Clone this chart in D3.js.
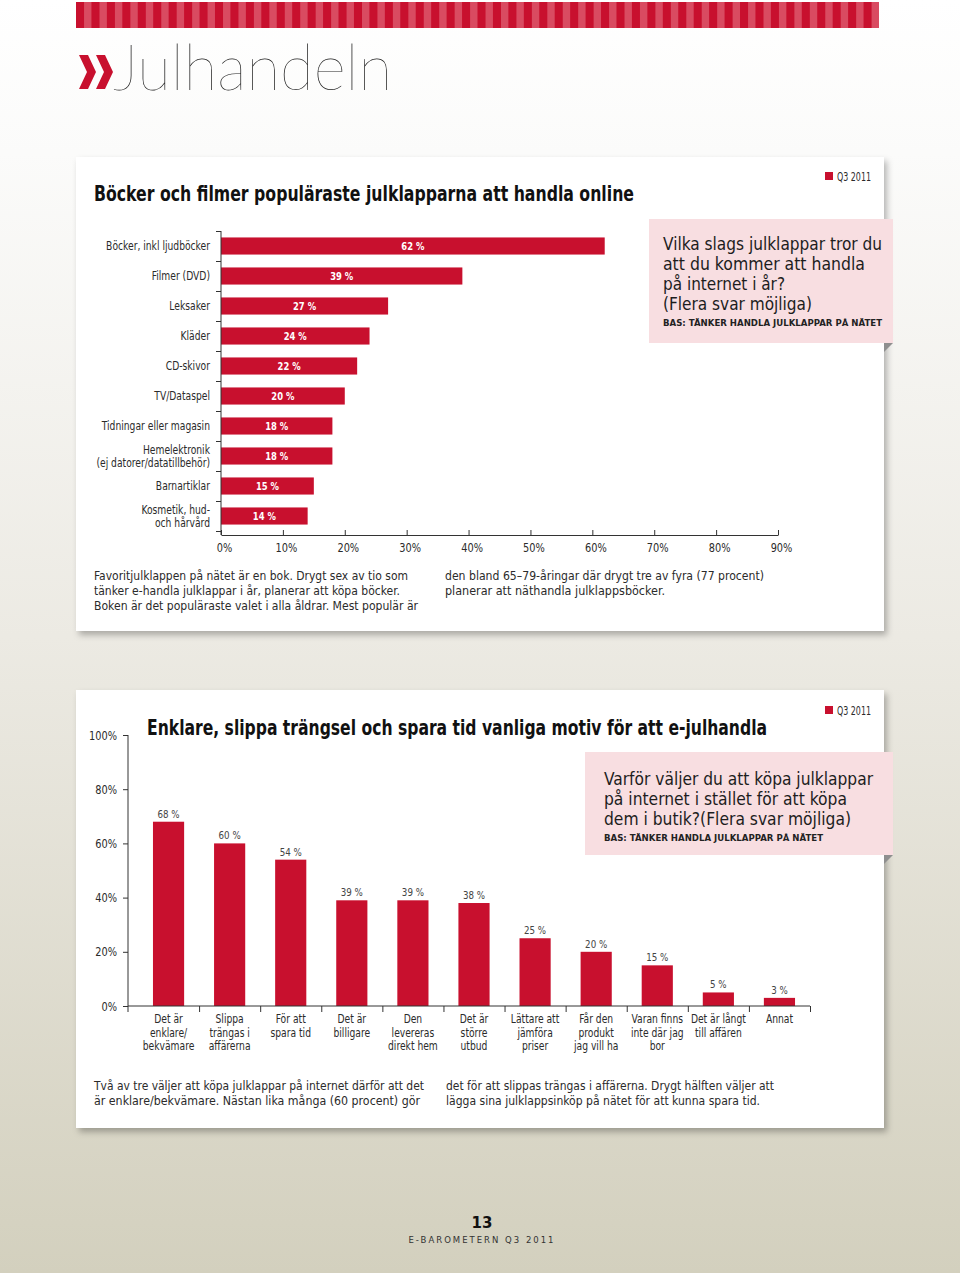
<!DOCTYPE html>
<html>
<head>
<meta charset="utf-8">
<script src="https://cdn.jsdelivr.net/npm/d3@7"></script>
<style>
  body { margin: 0; background: #fff; }
  svg { display: block; }
</style>
</head>
<body>
<svg id="page" width="960" height="1273"></svg>
<script>
// ---- data: chart 1 (horizontal bars) ----
const giftCategories = [
  "Böcker, inkl ljudböcker",
  "Filmer (DVD)",
  "Leksaker",
  "Kläder",
  "CD-skivor",
  "TV/Dataspel",
  "Tidningar eller magasin",
  "Hemelektronik\n(ej datorer/datatillbehör)",
  "Barnartiklar",
  "Kosmetik, hud-\noch hårvård",
];
const giftValues = [62, 39, 27, 24, 22, 20, 18, 18, 15, 14];
const giftTicks = [0, 10, 20, 30, 40, 50, 60, 70, 80, 90];

// ---- data: chart 2 (vertical bars) ----
const motiveCategories = [
  "Det är\nenklare/\nbekvämare",
  "Slippa\nträngas i\naffärerna",
  "För att\nspara tid",
  "Det är\nbilligare",
  "Den\nlevereras\ndirekt hem",
  "Det är\nstörre\nutbud",
  "Lättare att\njämföra\npriser",
  "Får den\nprodukt\njag vill ha",
  "Varan finns\ninte där jag\nbor",
  "Det är långt\ntill affären",
  "Annat",
];
const motiveValues = [68, 60, 54, 39, 39, 38, 25, 20, 15, 5, 3];
const motiveTicks = [0, 20, 40, 60, 80, 100];

// ---- texts ----
const giftTitle = "Böcker och filmer populäraste julklapparna att handla online";
const giftQuestion = ["Vilka slags julklappar tror du", "att du kommer att handla", "på internet i år?", "(Flera svar möjliga)"];
const giftTextLeft = [
  "Favoritjulklappen på nätet är en bok. Drygt sex av tio som",
  "tänker e-handla julklappar i år, planerar att köpa böcker.",
  "Boken är det populäraste valet i alla åldrar. Mest populär är",
];
const giftTextRight = [
  "den bland 65–79-åringar där drygt tre av fyra (77 procent)",
  "planerar  att näthandla julklappsböcker.",
];
const motiveTitle = "Enklare, slippa trängsel och spara tid vanliga motiv för att e-julhandla";
const motiveQuestion = ["Varför väljer du att köpa julklappar", "på internet i stället för att köpa", "dem i butik?(Flera svar möjliga)"];
const motiveTextLeft = [
  "Två av tre väljer att köpa julklappar på internet därför att det",
  "är enklare/bekvämare. Nästan lika många (60 procent) gör",
];
const motiveTextRight = [
  "det för att slippas trängas i affärerna. Drygt hälften väljer att",
  "lägga sina julklappsinköp på nätet för att kunna spara tid.",
];
const baseText = "BAS: TÄNKER HANDLA JULKLAPPAR PÅ NÄTET";
const periodLabel = "Q3 2011";

const RED = "#c8102e";
const PINK = "#f8dee1";
const TEXT = "#2b2b2b";
const COND = "'Liberation Sans Narrow','DejaVu Sans Condensed','Roboto',sans-serif";

const svg = d3.select("#page");
const defs = svg.append("defs");

const bg = defs.append("linearGradient").attr("id", "bg")
  .attr("x1", 0).attr("y1", 0).attr("x2", 0).attr("y2", 1);
bg.append("stop").attr("offset", 0).attr("stop-color", "#ffffff");
bg.append("stop").attr("offset", 0.12).attr("stop-color", "#fbfbfa");
bg.append("stop").attr("offset", 0.5).attr("stop-color", "#eceae3");
bg.append("stop").attr("offset", 1).attr("stop-color", "#d3d0be");

const shadow = defs.append("filter").attr("id", "shadow")
  .attr("x", "-5%").attr("y", "-5%").attr("width", "112%").attr("height", "115%");
shadow.append("feDropShadow").attr("dx", 3).attr("dy", 4).attr("stdDeviation", 3)
  .attr("flood-color", "#000").attr("flood-opacity", 0.28);

svg.append("rect").attr("width", 960).attr("height", 1273).attr("fill", "url(#bg)");

// squeeze text horizontally, the original uses a condensed face
function condense(sel, k) {
  sel.each(function () {
    const w = this.getComputedTextLength();
    d3.select(this).attr("textLength", w * k).attr("lengthAdjust", "spacingAndGlyphs");
  });
}

// ---- header stripe ----
const stripeCount = 52;
const stripeW = (879 - 76) / stripeCount;
svg.append("rect").attr("x", 76).attr("y", 2).attr("width", 879 - 76).attr("height", 26).attr("fill", "#d94b61");
svg.append("g").selectAll("rect").data(d3.range(stripeCount)).join("rect")
  .attr("x", i => 76 + i * stripeW)
  .attr("y", 2)
  .attr("width", stripeW * 0.52)
  .attr("height", 26)
  .attr("fill", RED);

// ---- page title ----
const chevron = a => `M${a},55 L${a + 9},55 L${a + 17},72 L${a + 9},89 L${a},89 L${a + 8},72 Z`;
svg.append("path").attr("d", chevron(79) + chevron(96)).attr("fill", RED);
svg.append("text").attr("x", 113).attr("y", 90)
  .attr("font-family", "Lato, 'Open Sans', sans-serif").attr("font-weight", 200)
  .attr("font-size", 64).attr("fill", "#1a1a1a")
  .attr("textLength", 279).attr("lengthAdjust", "spacingAndGlyphs")
  .text("Julhandeln");

// ---- helpers ----
function card(y, h) {
  svg.append("rect").attr("x", 76).attr("y", y).attr("width", 808).attr("height", h)
    .attr("fill", "#fff").attr("filter", "url(#shadow)");
}

function periodLegend(y) {
  svg.append("rect").attr("x", 825).attr("y", y - 4).attr("width", 8).attr("height", 8).attr("fill", RED);
  svg.append("text").attr("x", 837).attr("y", y + 4.5)
    .attr("font-family", COND).attr("font-size", 12).attr("fill", TEXT)
    .attr("textLength", 34).attr("lengthAdjust", "spacingAndGlyphs")
    .text(periodLabel);
}

function questionBox(x, y, w, h, lines, baseY, lineStep, widths, baseW) {
  svg.append("rect").attr("x", x).attr("y", y).attr("width", w).attr("height", h).attr("fill", PINK);
  svg.append("path")
    .attr("d", `M884,${y + h} L${x + w},${y + h} L884,${y + h + 9} Z`)
    .attr("fill", "#8f8f8f");
  const tx = x + 14 + (w > 280 ? 5 : 0);
  svg.append("g").selectAll("text").data(lines).join("text")
    .attr("x", tx)
    .attr("y", (d, i) => baseY + i * lineStep)
    .attr("font-family", COND).attr("font-size", 18.5).attr("fill", "#1d1d1d")
    .attr("textLength", (d, i) => widths[i]).attr("lengthAdjust", "spacingAndGlyphs")
    .text(d => d);
  svg.append("text").attr("x", tx).attr("y", baseY + lines.length * lineStep - 4)
    .attr("font-family", "'DejaVu Sans', sans-serif").attr("font-weight", "bold")
    .attr("font-size", 8.5).attr("fill", "#222")
    .attr("textLength", baseW).attr("lengthAdjust", "spacingAndGlyphs")
    .text(baseText);
}

function paragraph(x, y, lines, widths) {
  svg.append("g").selectAll("text").data(lines).join("text")
    .attr("x", x).attr("y", (d, i) => y + i * 15)
    .attr("font-family", COND).attr("font-size", 13).attr("fill", TEXT)
    .attr("textLength", (d, i) => widths[i]).attr("lengthAdjust", "spacingAndGlyphs")
    .text(d => d);
}

// ================= chart 1 =================
card(157, 474);
periodLegend(176);
svg.append("text").attr("x", 94).attr("y", 201)
  .attr("font-family", COND).attr("font-weight", "bold").attr("font-size", 22).attr("fill", "#111")
  .attr("textLength", 540).attr("lengthAdjust", "spacingAndGlyphs")
  .text(giftTitle);
questionBox(649, 219, 244, 124, giftQuestion, 250, 20, [219, 202, 122, 149], 219);

const x1 = d3.scaleLinear().domain([0, 90]).range([221, 778]);
const y1 = d3.scaleBand().domain(giftCategories).range([231, 531])
  .paddingInner(0.43).paddingOuter(0.215);
const gift = giftCategories.map((c, i) => ({ c, v: giftValues[i] }));

const g1 = svg.append("g");
g1.selectAll("rect.bar").data(gift).join("rect").attr("class", "bar")
  .attr("x", x1(0))
  .attr("y", d => y1(d.c))
  .attr("width", d => x1(d.v) - x1(0))
  .attr("height", y1.bandwidth())
  .attr("fill", RED);

g1.selectAll("text.val").data(gift).join("text").attr("class", "val")
  .attr("x", d => (x1(0) + x1(d.v)) / 2)
  .attr("y", d => y1(d.c) + y1.bandwidth() / 2 + 4)
  .attr("text-anchor", "middle")
  .attr("font-family", COND).attr("font-weight", "bold").attr("font-size", 11).attr("fill", "#fff")
  .text(d => `${d.v} %`)
  .call(condense, 0.85);

g1.selectAll("text.cat").data(gift).join("text").attr("class", "cat")
  .attr("x", 210)
  .attr("y", d => y1(d.c) + y1.bandwidth() / 2 + 4)
  .attr("text-anchor", "end")
  .attr("font-family", COND).attr("font-size", 12).attr("fill", TEXT)
  .each(function (d) {
    const sel = d3.select(this);
    const lines = d.c.split("\n");
    sel.selectAll("tspan").data(lines).join("tspan")
      .attr("x", 210)
      .attr("dy", (t, i) => (i === 0 ? -(lines.length - 1) * 6.5 : 13))
      .text(t => t)
      .call(condense, 0.85);
  });

// category boundaries on the y axis
const b1 = d3.scaleLinear().domain([0, giftCategories.length]).range([231, 531]);
const yAxis1 = svg.append("g").attr("transform", `translate(${x1(0)},0)`)
  .call(d3.axisLeft(b1).tickValues(d3.range(giftCategories.length + 1)).tickFormat("").tickSize(5).tickSizeOuter(0));
yAxis1.select(".domain").remove();
yAxis1.append("line").attr("y1", 231).attr("y2", 535).attr("stroke", "#333");
yAxis1.selectAll("line").attr("stroke", "#333");

const xAxis1 = svg.append("g").attr("transform", "translate(0,535)")
  .call(d3.axisBottom(x1).tickValues(giftTicks).tickFormat(d => `${d}%`)
    .tickSizeInner(-5).tickSizeOuter(0).tickPadding(8));
xAxis1.selectAll("path,line").attr("stroke", "#333");
xAxis1.selectAll("text").attr("font-family", COND).attr("font-size", 12.5).attr("fill", TEXT)
  .attr("dx", 3).call(condense, 0.87);

paragraph(94, 580, giftTextLeft, [314, 306, 324]);
paragraph(445, 580, giftTextRight, [319, 220]);

// ================= chart 2 =================
card(690, 438);
periodLegend(710);
svg.append("text").attr("x", 147).attr("y", 735)
  .attr("font-family", COND).attr("font-weight", "bold").attr("font-size", 22).attr("fill", "#111")
  .attr("textLength", 620).attr("lengthAdjust", "spacingAndGlyphs")
  .text(motiveTitle);
questionBox(585, 752, 308, 103, motiveQuestion, 785, 20, [269, 243, 247], 219);

const x2 = d3.scaleBand().domain(motiveCategories).range([138, 810])
  .paddingInner(0.49).paddingOuter(0.245);
const y2 = d3.scaleLinear().domain([0, 100]).range([1006, 735]);
const motive = motiveCategories.map((c, i) => ({ c, v: motiveValues[i] }));

const g2 = svg.append("g");
g2.selectAll("rect.bar").data(motive).join("rect").attr("class", "bar")
  .attr("x", d => x2(d.c))
  .attr("y", d => y2(d.v))
  .attr("width", x2.bandwidth())
  .attr("height", d => y2(0) - y2(d.v))
  .attr("fill", RED);

g2.selectAll("text.val").data(motive).join("text").attr("class", "val")
  .attr("x", d => x2(d.c) + x2.bandwidth() / 2)
  .attr("y", d => y2(d.v) - 4)
  .attr("text-anchor", "middle")
  .attr("font-family", COND).attr("font-size", 11).attr("fill", "#444")
  .text(d => `${d.v} %`)
  .call(condense, 0.88);

g2.selectAll("text.cat").data(motive).join("text").attr("class", "cat")
  .attr("x", d => x2(d.c) + x2.bandwidth() / 2)
  .attr("y", 1023)
  .attr("text-anchor", "middle")
  .attr("font-family", COND).attr("font-size", 12).attr("fill", TEXT)
  .each(function (d) {
    const sel = d3.select(this);
    sel.selectAll("tspan").data(d.c.split("\n")).join("tspan")
      .attr("x", sel.attr("x")).attr("dy", (t, i) => (i === 0 ? 0 : 13.5)).text(t => t)
      .call(condense, 0.85);
  });

const yAxis2 = svg.append("g").attr("transform", "translate(128,0)")
  .call(d3.axisLeft(y2).tickValues(motiveTicks).tickFormat(d => `${d}%`)
    .tickSize(5).tickSizeOuter(0).tickPadding(6));
yAxis2.select(".domain").remove();
yAxis2.append("line").attr("y1", 735).attr("y2", 1012).attr("stroke", "#333");
yAxis2.selectAll("line").attr("stroke", "#333");
yAxis2.selectAll("text").attr("font-family", COND).attr("font-size", 12.5).attr("fill", TEXT)
  .call(condense, 0.87);

const b2 = d3.scaleLinear().domain([0, motiveCategories.length]).range([138, 810]);
const xAxis2 = svg.append("g").attr("transform", `translate(0,${y2(0)})`)
  .call(d3.axisBottom(b2).tickValues(d3.range(1, motiveCategories.length + 1)).tickFormat("")
    .tickSize(6).tickSizeOuter(0));
xAxis2.select(".domain").remove();
xAxis2.append("line").attr("x1", 128).attr("x2", 810).attr("stroke", "#333");
xAxis2.selectAll("line").attr("stroke", "#333");

paragraph(94, 1090, motiveTextLeft, [330, 326]);
paragraph(446, 1090, motiveTextRight, [328, 314]);

// ---- footer ----
svg.append("text").attr("x", 482).attr("y", 1228).attr("text-anchor", "middle")
  .attr("font-family", "'DejaVu Sans', sans-serif").attr("font-weight", "bold").attr("font-size", 15)
  .attr("fill", "#111").text("13");
svg.append("text").attr("x", 482).attr("y", 1243).attr("text-anchor", "middle")
  .attr("font-family", "'DejaVu Sans', sans-serif").attr("font-size", 8.5)
  .attr("letter-spacing", 2).attr("fill", "#333").text("E-BAROMETERN Q3 2011");
</script>
</body>
</html>
